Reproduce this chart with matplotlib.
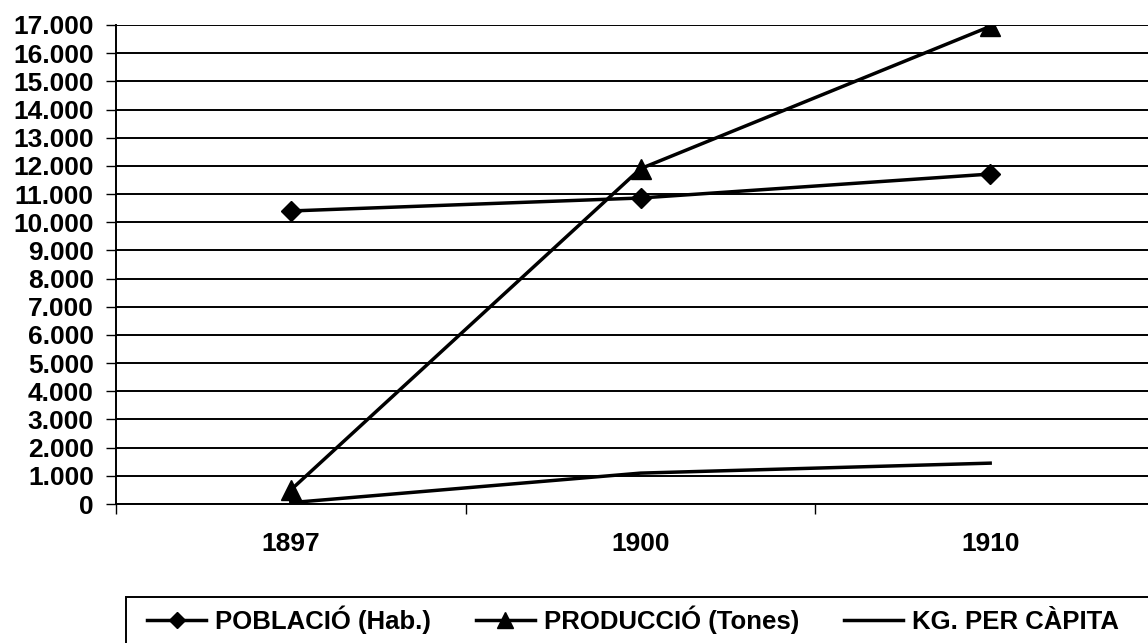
import numpy as np
import matplotlib
matplotlib.use('Agg')
import matplotlib.pyplot as plt
from matplotlib.patches import Rectangle
from matplotlib.lines import Line2D

plt.rcParams['font.family'] = ['Liberation Sans', 'DejaVu Sans']
plt.rcParams['font.weight'] = 'bold'

# dades
anys = ['1897', '1900', '1910']
poblacio = [10400, 10860, 11710]
produccio = [500, 11900, 16950]
kg_capita = [48, 1096, 1450]
noms = ['POBLACIÓ (Hab.)', 'PRODUCCIÓ (Tones)', 'KG. PER CÀPITA']
yticks = list(range(0, 17001, 1000))

W, H = 1148, 643
fig = plt.figure(figsize=(W / 100, H / 100), dpi=100)
ax = fig.add_axes([116 / W, (H - 504) / H, (1165 - 116) / W, (504 - 25) / H])

x = np.arange(len(anys))
lw = 2.5
ax.plot(x, poblacio, color='black', lw=lw, marker='D', ms=10, zorder=3)
ax.plot(x, produccio, color='black', lw=lw, marker='^', ms=14.5, zorder=3)
ax.plot(x, kg_capita, color='black', lw=lw, zorder=3)

ax.set_xlim(-0.5, 2.5)
ax.set_ylim(0, 17000)
ax.set_yticks(yticks)
ax.set_yticklabels(['{:,}'.format(v).replace(',', '.') for v in yticks], fontsize=19, fontweight='bold')
ax.set_xticks([-0.5, 0.5, 1.5, 2.5])
ax.set_xticklabels([])
ax.set_xticks(x, minor=True)
ax.set_xticklabels(anys, minor=True, fontsize=19, fontweight='bold')
ax.tick_params(axis='x', which='minor', length=0, pad=20)
ax.tick_params(axis='x', which='major', length=7, width=1, direction='out')
ax.tick_params(axis='y', length=7, width=1, direction='out', pad=9)
ax.yaxis.grid(True, color='black', lw=1.4)
ax.set_axisbelow(True)
for s in ['top', 'right']:
    ax.spines[s].set_visible(False)
ax.spines['left'].set_linewidth(1.4)
ax.spines['bottom'].set_linewidth(1.4)

# llegenda
fig.patches.append(Rectangle((126 / W, -0.1), 1.2, (H - 597) / H + 0.1, transform=fig.transFigure,
                             fill=False, ec='black', lw=1.4))
handles = [Line2D([], [], color='black', lw=lw, marker='D', ms=8),
           Line2D([], [], color='black', lw=lw, marker='^', ms=11),
           Line2D([], [], color='black', lw=lw)]
fig.legend(handles, noms, loc='center left', bbox_to_anchor=(147 / W, (H - 620) / H), ncol=3,
           frameon=False, prop={'size': 18.5, 'weight': 'bold'}, handlelength=2.3,
           handletextpad=0.35, columnspacing=1.75, borderaxespad=0, borderpad=0)

fig.savefig('out.png', dpi=100)
